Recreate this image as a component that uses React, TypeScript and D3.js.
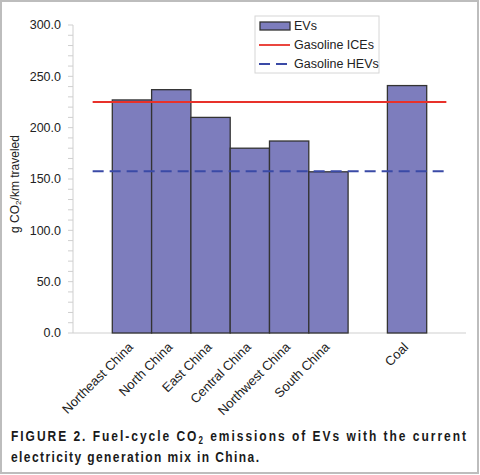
import * as d3 from "d3";
import React from "react";

// category slots (blank slots are empty positions on the axis)
const slots = ["", "Northeast China", "North China", "East China", "Central China", "Northwest China", "South China", "", "Coal", ""];
const evValues = [null, 227, 237, 210, 180, 187, 157, null, 241, null];
const gasolineICE = 225;
const gasolineHEV = 157.5;
const yTicks = [0, 50, 100, 150, 200, 250, 300];

const W = 480;
const H = 475;

const App = () => {
  const x = d3
    .scaleBand<string>()
    .domain(slots.map((_, i) => String(i)))
    .range([73, 466])
    .padding(0);
  const y = d3.scaleLinear().domain([0, 300]).range([333, 25]);
  const bw = x.bandwidth();
  const minor = d3.range(0, 301, 10);

  const lineX0 = (x("0") as number) + bw / 2;
  const lineX1 = (x(String(slots.length - 1)) as number) + bw / 2;
  const refLine = d3.line<[number, number]>();

  const font = "Arial, 'Liberation Sans', sans-serif";

  return (
    <svg
      width={W}
      height={H}
      style={{ position: "absolute", left: 0, top: 0, background: "#fff", fontFamily: font }}
    >
      <rect x={1} y={1} width={W - 3} height={H - 3} fill="#fff" stroke="#bdbdbd" strokeWidth={2} />

      {/* y axis */}
      <line x1={73} x2={73} y1={y(300)} y2={y(0)} stroke="#cfcfcf" strokeWidth={1} />
      {minor.map((t) => (
        <line key={t} x1={68} x2={73} y1={y(t)} y2={y(t)} stroke="#cfcfcf" strokeWidth={1} />
      ))}
      {yTicks.map((t) => (
        <text key={t} x={61} y={y(t)} dy="0.35em" textAnchor="end" fontSize={12.5} fill="#222">
          {t.toFixed(1)}
        </text>
      ))}
      <text transform={`translate(19,184) rotate(-90)`} textAnchor="middle" fontSize={12} fill="#222">
        g CO<tspan fontSize={8} dy={2}>2</tspan>
        <tspan dy={-2}>/km traveled</tspan>
      </text>

      {/* x axis */}
      <line x1={73} x2={466} y1={y(0)} y2={y(0)} stroke="#cfcfcf" strokeWidth={1.2} />

      {/* bars */}
      {evValues.map((v, i) =>
        v == null ? null : (
          <rect
            key={i}
            x={x(String(i))}
            y={y(v)}
            width={bw}
            height={y(0) - y(v)}
            fill="#7d7dbd"
            stroke="#333"
            strokeWidth={1.3}
          />
        )
      )}

      {/* reference lines */}
      <path
        d={refLine([[lineX0, y(gasolineICE)], [lineX1, y(gasolineICE)]]) as string}
        stroke="#e8312a"
        strokeWidth={1.8}
        fill="none"
      />
      <path
        d={refLine([[lineX0, y(gasolineHEV)], [lineX1, y(gasolineHEV)]]) as string}
        stroke="#3a4aa6"
        strokeWidth={2}
        strokeDasharray="11,6"
        fill="none"
      />

      {/* x labels */}
      {slots.map((s, i) =>
        s ? (
          <text
            key={i}
            transform={`translate(${(x(String(i)) as number) + bw / 2 + 2},${y(0) + 15}) rotate(-45)`}
            textAnchor="end"
            fontSize={13}
            fill="#222"
          >
            {s}
          </text>
        ) : null
      )}

      {/* legend */}
      <g>
        <rect x={255} y={16} width={124} height={57} fill="#fff" stroke="#d6d6d6" strokeWidth={1} />
        <rect x={260} y={22} width={30} height={8} fill="#7d7dbd" stroke="#333" strokeWidth={1.3} />
        <text x={294} y={26} dy="0.35em" fontSize={12.5} fill="#222">EVs</text>
        <line x1={259} x2={290} y1={45} y2={45} stroke="#e8312a" strokeWidth={1.8} />
        <text x={294} y={45} dy="0.35em" fontSize={12.5} fill="#222">Gasoline ICEs</text>
        <line x1={259} x2={290} y1={64} y2={64} stroke="#3a4aa6" strokeWidth={2} strokeDasharray="11,6" />
        <text x={294} y={64} dy="0.35em" fontSize={12.5} fill="#222">Gasoline HEVs</text>
      </g>

      {/* caption: condensed bold, justified first line */}
      <g transform="translate(11,0) scale(0.8,1)" fontWeight="bold" fontSize={15} fill="#1a1a1a">
        <text x={0} y={441} textLength={455 / 0.8} lengthAdjust="spacing">
          FIGURE 2. Fuel-cycle CO<tspan fontSize={10} dy={3}>2</tspan>
          <tspan dy={-3}> emissions of EVs with the current</tspan>
        </text>
        <text x={0} y={462} textLength={248 / 0.8} lengthAdjust="spacing">
          electricity generation mix in China.
        </text>
      </g>
    </svg>
  );
};

export default App;
